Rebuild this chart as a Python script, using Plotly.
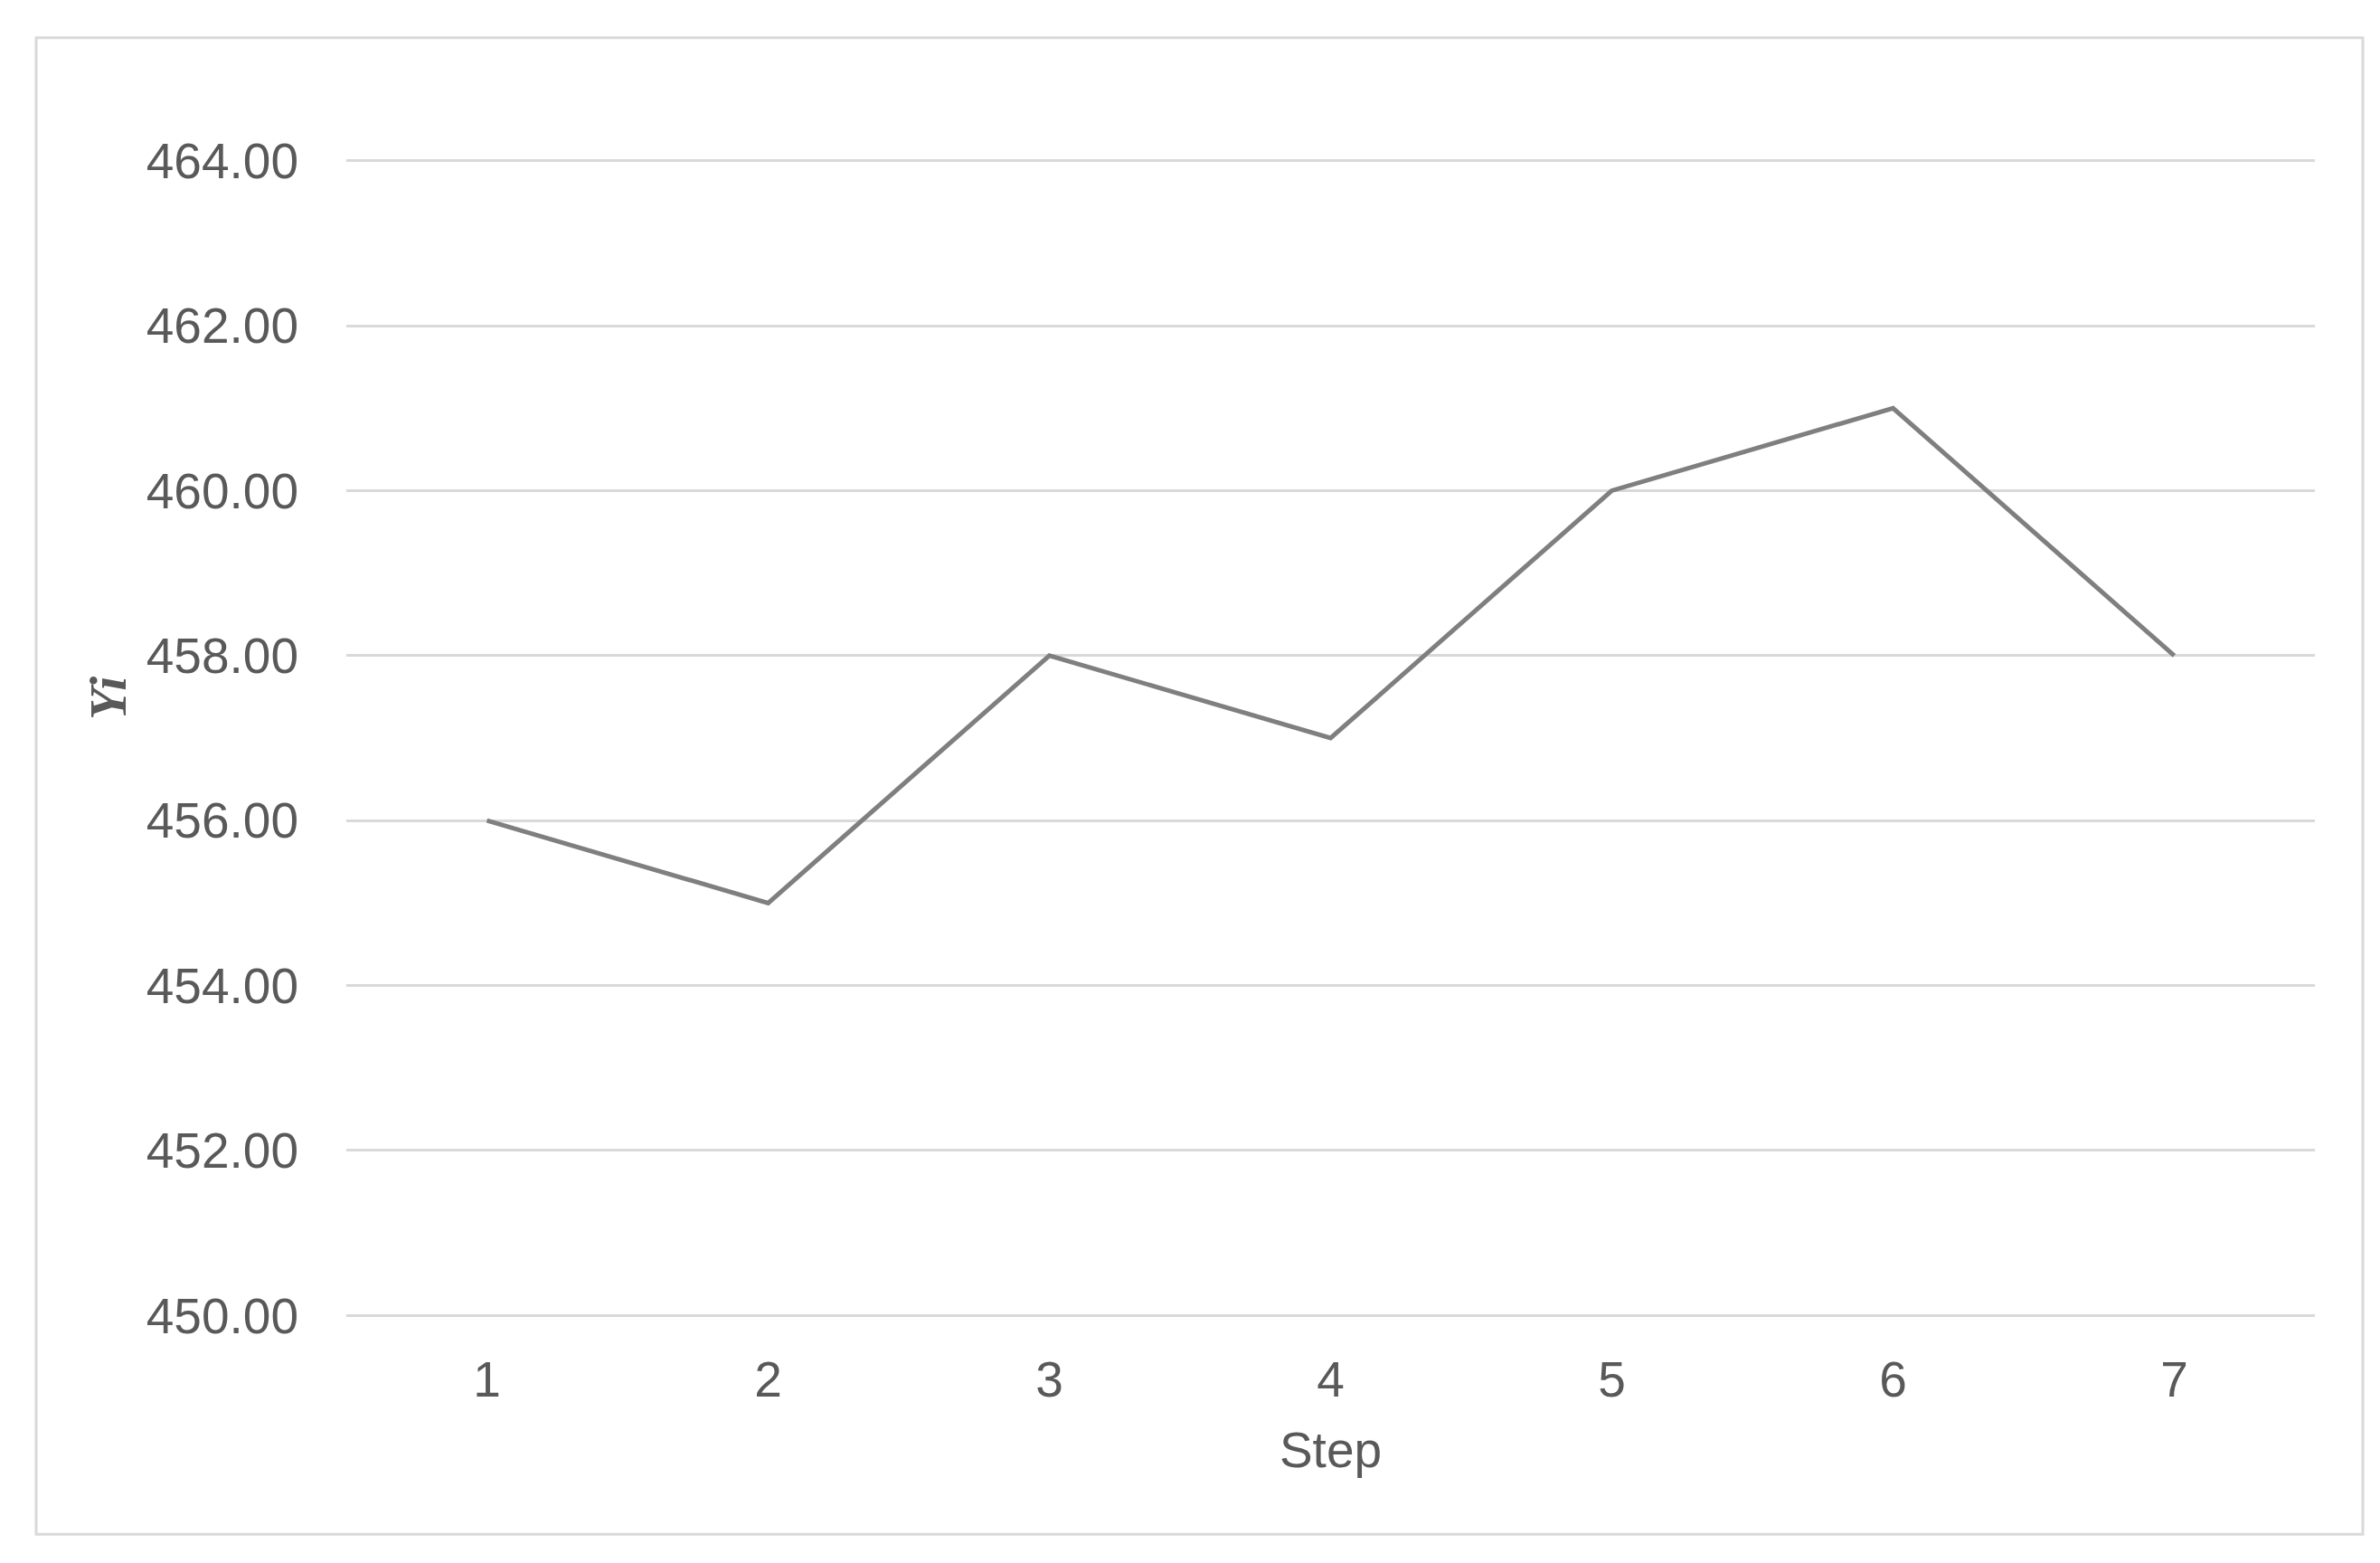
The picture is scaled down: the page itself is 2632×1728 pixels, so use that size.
import plotly.graph_objects as go

steps = ["1", "2", "3", "4", "5", "6", "7"]
yi_values = [456, 455, 458, 457, 460, 461, 458]
y_ticks = [450, 452, 454, 456, 458, 460, 462, 464]
x_title = "Step"
y_title = "Yi"

W, H = 2632, 1728
# pixel positions of the top/bottom gridlines and plot left/right edges
g_top, g_bot = 170, 1446
x_left, x_right = 375, 2552
y_min, y_max = 450, 464
eps = 0.03
px_per_unit = (g_bot - g_top) / (y_max - y_min)
pad = eps * px_per_unit

L, R = x_left, W - x_right
T, B = g_top - pad, H - (g_bot + pad)
pw, ph = W - L - R, H - T - B

fig = go.Figure()
fig.add_trace(go.Scatter(
    x=steps, y=yi_values, mode="lines",
    line=dict(color="#7f7f7f", width=5),
    showlegend=False, hoverinfo="x+y",
))

tick_font = dict(family="Liberation Sans, Arial, sans-serif", size=55, color="#595959")

def px_x(p):
    return (p - L) / pw

def px_y(p):
    return (H - B - p) / ph

fig.update_layout(
    width=W, height=H,
    margin=dict(l=L, r=R, t=T, b=B, autoexpand=False),
    paper_bgcolor="white", plot_bgcolor="white",
    xaxis=dict(
        type="category", range=[-0.5, 6.5],
        showgrid=False, zeroline=False, showline=False, ticks="",
        tickfont=tick_font, ticklabelstandoff=31,
        title=dict(text=x_title, font=tick_font, standoff=28),
    ),
    yaxis=dict(
        range=[y_min - eps, y_max + eps], tickvals=y_ticks, tickformat=".2f",
        showgrid=True, gridcolor="#d9d9d9", gridwidth=3,
        zeroline=False, showline=False, ticks="",
        tickfont=tick_font, ticklabelstandoff=52,
    ),
    annotations=[dict(
        text="<b><i>" + y_title + "</i></b>",
        xref="paper", yref="paper", x=0, y=px_y(764),
        xshift=112 - L, xanchor="center", yanchor="middle",
        textangle=-90, showarrow=False,
        font=dict(family="Liberation Serif, Times New Roman, serif", size=58, color="#595959"),
    )],
    shapes=[dict(
        type="rect", xref="paper", yref="paper",
        x0=px_x(32), x1=px_x(2605),
        y0=px_y(1688), y1=px_y(34),
        line=dict(color="#d9d9d9", width=3), fillcolor="rgba(0,0,0,0)", layer="below",
    )],
)

fig.write_html("out.html")
